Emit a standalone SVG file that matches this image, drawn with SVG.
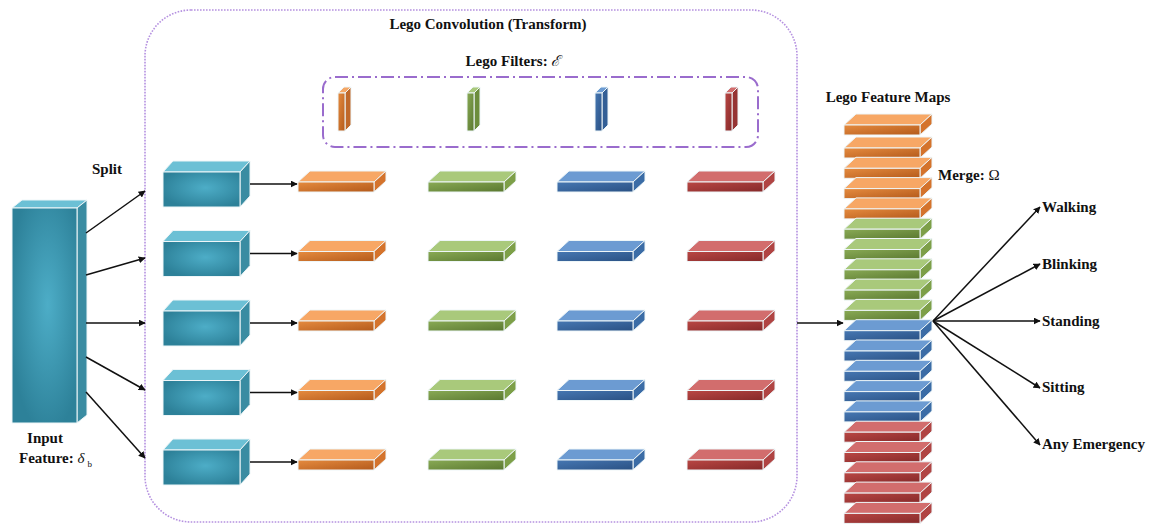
<svg xmlns="http://www.w3.org/2000/svg" width="1159" height="525" viewBox="0 0 1159 525" font-family="'Liberation Serif', 'Times New Roman', serif">
<style>
  text{font-family:'Liberation Serif','Times New Roman',serif}
  .lbl{font-weight:bold;font-size:15px;fill:#111}
  .edge{stroke:#eef6f8;stroke-width:1;stroke-linejoin:round}
  .conn{stroke:#111;stroke-width:1.5;fill:none;marker-end:url(#arr)}
</style>
<defs>
  <marker id="arr" viewBox="0 0 10 10" refX="9" refY="5" markerWidth="7" markerHeight="7" orient="auto" markerUnits="userSpaceOnUse">
    <path d="M0,0 L10,5 L0,10 z" fill="#111"/>
  </marker>
  <radialGradient id="tealF" cx="0.55" cy="0.45" r="0.6">
    <stop offset="0" stop-color="#4dadc7"/>
    <stop offset="1" stop-color="#2d8199"/>
  </radialGradient>
  <linearGradient id="orF" x1="0" y1="0" x2="1" y2="1">
    <stop offset="0" stop-color="#e58b3f"/><stop offset="1" stop-color="#b45a1b"/>
  </linearGradient>
  <linearGradient id="grF" x1="0" y1="0" x2="1" y2="1">
    <stop offset="0" stop-color="#89aa55"/><stop offset="1" stop-color="#5a7830"/>
  </linearGradient>
  <linearGradient id="blF" x1="0" y1="0" x2="1" y2="1">
    <stop offset="0" stop-color="#4677b2"/><stop offset="1" stop-color="#2a5184"/>
  </linearGradient>
  <linearGradient id="rdF" x1="0" y1="0" x2="1" y2="1">
    <stop offset="0" stop-color="#b94744"/><stop offset="1" stop-color="#862929"/>
  </linearGradient>
  <g id="slab-or">
    <polygon class="edge" points="0,0 12,-11 88,-11 76,0" fill="#f7a765"/>
    <polygon class="edge" points="76,0 88,-11 88,-1 76,10" fill="#d4732c"/>
    <rect class="edge" x="0" y="0" width="76" height="10" fill="url(#orF)"/>
  </g>
  <g id="slab-gr">
    <polygon class="edge" points="0,0 12,-11 88,-11 76,0" fill="#a9c97b"/>
    <polygon class="edge" points="76,0 88,-11 88,-1 76,10" fill="#7d9f48"/>
    <rect class="edge" x="0" y="0" width="76" height="10" fill="url(#grF)"/>
  </g>
  <g id="slab-bl">
    <polygon class="edge" points="0,0 12,-11 88,-11 76,0" fill="#6c9bd2"/>
    <polygon class="edge" points="76,0 88,-11 88,-1 76,10" fill="#3b6ca6"/>
    <rect class="edge" x="0" y="0" width="76" height="10" fill="url(#blF)"/>
  </g>
  <g id="slab-rd">
    <polygon class="edge" points="0,0 12,-11 88,-11 76,0" fill="#d26d6d"/>
    <polygon class="edge" points="76,0 88,-11 88,-1 76,10" fill="#b04443"/>
    <rect class="edge" x="0" y="0" width="76" height="10" fill="url(#rdF)"/>
  </g>
  <g id="tbox">
    <polygon class="edge" points="0,0 10,-11 87,-11 77,0" fill="#6cc0d5"/>
    <polygon class="edge" points="77,0 87,-11 87,24 77,35" fill="#3a8ca2"/>
    <rect class="edge" x="0" y="0" width="77" height="35" fill="url(#tealF)"/>
  </g>
</defs>

<rect width="1159" height="525" fill="#ffffff"/>

<g id="lego-convolution">
  <rect x="145" y="10" width="652" height="512" rx="46" ry="46" fill="none" stroke="#b591e0" stroke-width="1.6" stroke-dasharray="1.6 1.4"/>
  <text class="lbl" x="488" y="29" text-anchor="middle">Lego Convolution (Transform)</text>
</g>

<g id="lego-filters">
  <rect x="323" y="77" width="435" height="70" rx="12" ry="12" fill="none" stroke="#9a6ccd" stroke-width="2" stroke-dasharray="13 4 2 4"/>
  <text class="lbl" x="513" y="66" text-anchor="middle">Lego Filters: <tspan style="font-family:'DejaVu Serif',serif" font-style="italic" font-weight="normal">ℰ</tspan></text>
  <g transform="translate(338,93)">
    <polygon class="edge" points="0,0 6,-6 13,-6 7,0" fill="#f5a766"/>
    <polygon class="edge" points="7,0 13,-6 13,32 7,38" fill="#c0682a"/>
    <rect class="edge" x="0" y="0" width="7" height="38" fill="url(#orF)"/>
  </g>
  <g transform="translate(467,93)">
    <polygon class="edge" points="0,0 6,-6 13,-6 7,0" fill="#a9c97b"/>
    <polygon class="edge" points="7,0 13,-6 13,32 7,38" fill="#6c8d3c"/>
    <rect class="edge" x="0" y="0" width="7" height="38" fill="url(#grF)"/>
  </g>
  <g transform="translate(595,93)">
    <polygon class="edge" points="0,0 6,-6 13,-6 7,0" fill="#6c9bd2"/>
    <polygon class="edge" points="7,0 13,-6 13,32 7,38" fill="#335f96"/>
    <rect class="edge" x="0" y="0" width="7" height="38" fill="url(#blF)"/>
  </g>
  <g transform="translate(725,93)">
    <polygon class="edge" points="0,0 6,-6 13,-6 7,0" fill="#d26d6d"/>
    <polygon class="edge" points="7,0 13,-6 13,32 7,38" fill="#963434"/>
    <rect class="edge" x="0" y="0" width="7" height="38" fill="url(#rdF)"/>
  </g>
</g>

<g id="input-feature">
  <polygon class="edge" points="12,208 22,200 87,200 77,208" fill="#6cc0d5"/>
  <polygon class="edge" points="77,208 87,200 87,415 77,423" fill="#3a8ca2"/>
  <rect class="edge" x="12" y="208" width="65" height="215" fill="url(#tealF)"/>
  <text class="lbl" x="45" y="443" text-anchor="middle">Input</text>
  <text class="lbl" x="19" y="463">Feature: <tspan font-style="italic" font-weight="normal">δ</tspan><tspan font-size="9" font-weight="normal" dy="4" dx="3">b</tspan></text>
</g>

<g id="split-label">
  <text class="lbl" x="92" y="174">Split</text>
</g>

<g id="split-1"><use href="#tbox" x="163" y="172"/></g>
<g id="split-2"><use href="#tbox" x="163" y="241.5"/></g>
<g id="split-3"><use href="#tbox" x="163" y="311"/></g>
<g id="split-4"><use href="#tbox" x="163" y="380.5"/></g>
<g id="split-5"><use href="#tbox" x="163" y="450"/></g>

<g id="row-1">
  <use href="#slab-or" x="298" y="182"/><use href="#slab-gr" x="428" y="182"/><use href="#slab-bl" x="557" y="182"/><use href="#slab-rd" x="687" y="182"/>
</g>
<g id="row-2">
  <use href="#slab-or" x="298" y="251.5"/><use href="#slab-gr" x="428" y="251.5"/><use href="#slab-bl" x="557" y="251.5"/><use href="#slab-rd" x="687" y="251.5"/>
</g>
<g id="row-3">
  <use href="#slab-or" x="298" y="321"/><use href="#slab-gr" x="428" y="321"/><use href="#slab-bl" x="557" y="321"/><use href="#slab-rd" x="687" y="321"/>
</g>
<g id="row-4">
  <use href="#slab-or" x="298" y="390.5"/><use href="#slab-gr" x="428" y="390.5"/><use href="#slab-bl" x="557" y="390.5"/><use href="#slab-rd" x="687" y="390.5"/>
</g>
<g id="row-5">
  <use href="#slab-or" x="298" y="460"/><use href="#slab-gr" x="428" y="460"/><use href="#slab-bl" x="557" y="460"/><use href="#slab-rd" x="687" y="460"/>
</g>

<g id="feature-maps">
  <text class="lbl" x="888" y="102" text-anchor="middle">Lego Feature Maps</text>
  <use href="#slab-or" x="844" y="125"/>
  <use href="#slab-or" x="844" y="148"/>
  <use href="#slab-or" x="844" y="168.3"/>
  <use href="#slab-or" x="844" y="188.6"/>
  <use href="#slab-or" x="844" y="208.9"/>
  <use href="#slab-gr" x="844" y="229.2"/>
  <use href="#slab-gr" x="844" y="249.5"/>
  <use href="#slab-gr" x="844" y="269.8"/>
  <use href="#slab-gr" x="844" y="290.1"/>
  <use href="#slab-gr" x="844" y="310.4"/>
  <use href="#slab-bl" x="844" y="330.7"/>
  <use href="#slab-bl" x="844" y="351"/>
  <use href="#slab-bl" x="844" y="371.3"/>
  <use href="#slab-bl" x="844" y="391.6"/>
  <use href="#slab-bl" x="844" y="411.9"/>
  <use href="#slab-rd" x="844" y="432.2"/>
  <use href="#slab-rd" x="844" y="452.5"/>
  <use href="#slab-rd" x="844" y="472.8"/>
  <use href="#slab-rd" x="844" y="493.1"/>
  <use href="#slab-rd" x="844" y="513.4"/>
  <text class="lbl" x="938" y="180">Merge: <tspan font-weight="normal">Ω</tspan></text>
</g>

<g id="outputs">
  <text class="lbl" x="1042" y="212">Walking</text>
  <text class="lbl" x="1042" y="269">Blinking</text>
  <text class="lbl" x="1042" y="326">Standing</text>
  <text class="lbl" x="1042" y="392">Sitting</text>
  <text class="lbl" x="1042" y="449">Any Emergency</text>
</g>

<g id="connectors">
  <line class="conn" x1="86" y1="233" x2="145" y2="191"/>
  <line class="conn" x1="86" y1="275" x2="145" y2="258"/>
  <line class="conn" x1="86" y1="323" x2="145" y2="323"/>
  <line class="conn" x1="86" y1="357" x2="145" y2="390"/>
  <line class="conn" x1="86" y1="392" x2="145" y2="458"/>
  <line class="conn" x1="250" y1="184" x2="297" y2="184"/>
  <line class="conn" x1="250" y1="253.5" x2="297" y2="253.5"/>
  <line class="conn" x1="250" y1="323" x2="297" y2="323"/>
  <line class="conn" x1="250" y1="392.5" x2="297" y2="392.5"/>
  <line class="conn" x1="250" y1="462" x2="297" y2="462"/>
  <line class="conn" x1="797" y1="323" x2="843" y2="323"/>
  <line class="conn" x1="933" y1="321" x2="1040" y2="207"/>
  <line class="conn" x1="933" y1="321" x2="1040" y2="264"/>
  <line class="conn" x1="933" y1="321" x2="1040" y2="321"/>
  <line class="conn" x1="933" y1="321" x2="1040" y2="388"/>
  <line class="conn" x1="933" y1="321" x2="1040" y2="445"/>
</g>
</svg>
